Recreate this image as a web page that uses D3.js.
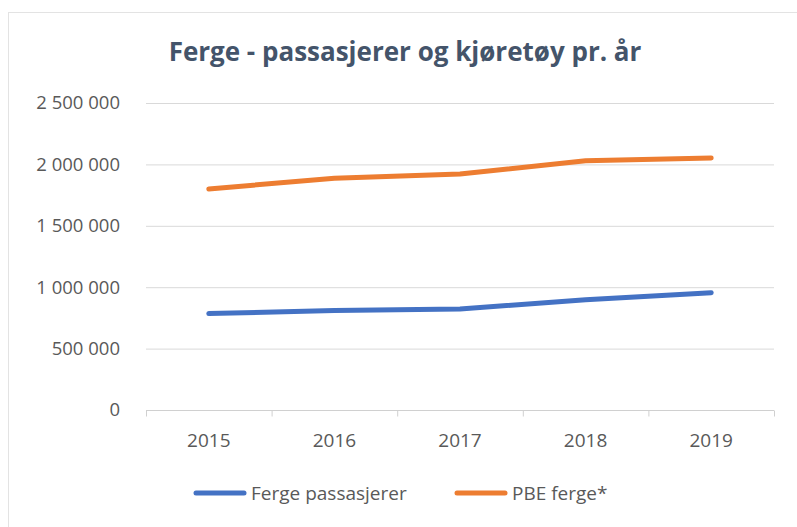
<!DOCTYPE html>
<html>
<head>
<meta charset="utf-8">
<script src="https://cdn.jsdelivr.net/npm/d3@7"></script>
<style>
  body { margin: 0; background: #fff; }
  text { font-family: "Open Sans", sans-serif; }
</style>
</head>
<body>
<svg width="797" height="527"></svg>
<script>
// values
var years = ['2015', '2016', '2017', '2018', '2019'];
var fergePassasjerer = [785000, 810000, 822000, 898000, 955000];
var pbeFerge = [1800000, 1888000, 1922000, 2030000, 2052000];
var yTicks = [0, 500000, 1000000, 1500000, 2000000, 2500000];
var seriesNames = ['Ferge passasjerer', 'PBE ferge*'];
var colors = ['#4472C4', '#ED7D31'];

var svg = d3.select('svg');
var margin = { left: 146, right: 23, top: 103, bottom: 117 };
var W = 797, H = 527;

// chart frame
svg.append('rect').attr('x', 8.5).attr('y', 12.5).attr('width', 800).attr('height', 530)
  .attr('fill', 'none').attr('stroke', '#e3e3e3');

var x = d3.scaleBand().domain(years).range([margin.left, W - margin.right]);
var y = d3.scaleLinear().domain([0, 2500000]).range([H - margin.bottom, margin.top]);

var fmt = function(d) { return d3.format(',')(d).replace(/,/g, ' '); };

// gridlines
svg.append('g').selectAll('line').data(yTicks.filter(function(d) { return d > 0; })).enter().append('line')
  .attr('x1', margin.left).attr('x2', W - margin.right)
  .attr('y1', function(d) { return y(d) + 0.5; }).attr('y2', function(d) { return y(d) + 0.5; })
  .attr('stroke', '#d9d9d9').attr('stroke-width', 1);

// y labels
svg.append('g').selectAll('text').data(yTicks).enter().append('text')
  .attr('x', 120).attr('y', function(d) { return y(d); }).attr('dy', '0.35em')
  .attr('text-anchor', 'end').attr('font-size', 18.5).attr('fill', '#595959')
  .text(fmt);

// x axis
var xAxis = svg.append('g').attr('transform', 'translate(0,' + (y(0) + 0.5) + ')');
xAxis.append('line').attr('x1', margin.left).attr('x2', W - margin.right).attr('stroke', '#d0d0d0');
var edges = years.map(function(d) { return x(d); }).concat([x(years[4]) + x.bandwidth()]);
xAxis.selectAll('.tk').data(edges).enter().append('line')
  .attr('x1', function(d) { return d + 0.5; }).attr('x2', function(d) { return d + 0.5; })
  .attr('y1', 0).attr('y2', 6).attr('stroke', '#d0d0d0');
xAxis.selectAll('text').data(years).enter().append('text')
  .attr('x', function(d) { return x(d) + x.bandwidth() / 2; }).attr('y', 30)
  .attr('dy', '0.35em').attr('text-anchor', 'middle').attr('font-size', 19).attr('fill', '#595959')
  .text(function(d) { return d; });

// lines
var line = d3.line()
  .x(function(d, i) { return x(years[i]) + x.bandwidth() / 2; })
  .y(function(d) { return y(d); });
[fergePassasjerer, pbeFerge].forEach(function(s, i) {
  svg.append('path').datum(s).attr('d', line).attr('fill', 'none')
    .attr('stroke', colors[i]).attr('stroke-width', 5).attr('stroke-linecap', 'round').attr('stroke-linejoin', 'round');
});

// title
svg.append('text').attr('x', 405).attr('y', 52).attr('dy', '0.35em').attr('text-anchor', 'middle')
  .attr('font-size', 26).attr('font-weight', 'bold').attr('fill', '#44546A')
  .text('Ferge - passasjerer og kjøretøy pr. år');

// legend
var legX = [196, 457];
var leg = svg.append('g').selectAll('g').data(seriesNames).enter().append('g')
  .attr('transform', function(d, i) { return 'translate(' + legX[i] + ',493)'; });
leg.append('line').attr('x1', 0).attr('x2', 48).attr('stroke', function(d, i) { return colors[i]; })
  .attr('stroke-width', 5).attr('stroke-linecap', 'round');
leg.append('text').attr('x', 55).attr('dy', '0.35em').attr('font-size', 19).attr('fill', '#595959')
  .text(function(d) { return d; });
</script>
</body>
</html>
